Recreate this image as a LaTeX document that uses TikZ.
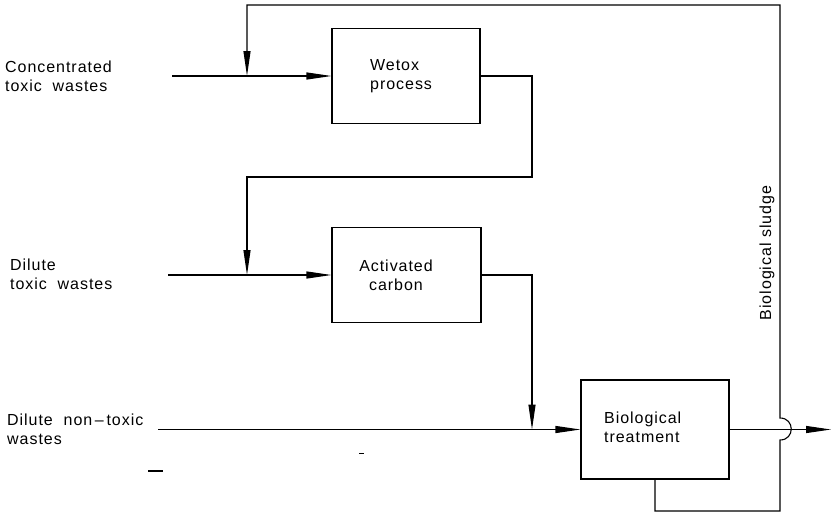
\documentclass[tikz,border=0pt]{standalone}
\usepackage{fontspec}
\setmainfont{Liberation Sans}[LetterSpace=6]
\usetikzlibrary{arrows.meta}
\begin{document}
\begin{tikzpicture}[x=1pt,y=-1pt,
  every node/.style={font=\fontsize{16}{19}\selectfont},
  ln/.style={line width=1.1pt},
  proc/.style={draw,line width=1.1pt,inner sep=0pt},
  lbl/.style={inner sep=0pt,align=left,anchor=west},
  tip/.style={-{Triangle[length=25pt,width=7pt]}}]
\useasboundingbox (0,0) rectangle (832,517);
% boxes
\node[proc,minimum width=148pt,minimum height=95pt] (wetox) at (406,76) {};
\node[proc,minimum width=149pt,minimum height=95pt] (carbon) at (406.5,275) {};
\node[proc,minimum width=148pt,minimum height=99pt] (bio) at (655,429.5) {};
% box texts
\node[lbl] (wetoxt) at (370,76) {Wetox\\process};
\node[inner sep=0pt,align=center] (carbont) at (396,275) {Activated\\carbon};
\node[lbl] (biot) at (604,427) {Biological\\treatment};
% input labels
\node[lbl] (conc) at (5,76) {Concentrated\\toxic\ \ wastes};
\node[lbl] (dil) at (10,274.5) {Dilute\\toxic\ \ wastes};
\node[lbl] (nontox) at (7,429) {Dilute\ \ non\,--\,toxic\\wastes};
\node[inner sep=0pt,rotate=90] (sludge) at (767,253) {Biological sludge};
% coordinates
\coordinate (in1) at (172,76);
\coordinate (in2) at (168,275);
\coordinate (in3) at (158,429.5);
\coordinate (out) at (831,429.5);
\coordinate (j1) at (247,76);
\coordinate (j2) at (247,275);
\coordinate (j3) at (532,429.5);
\coordinate (c1) at (532,177);
\coordinate (loopbr) at (780,511);
\coordinate (hopbot) at (780,440);
\coordinate (hoptop) at (780,418);
\coordinate (looptr) at (780,5);
% connectors
\draw[ln,tip] (in1) -- (wetox.west);
\draw[ln,tip] (in2) -- (carbon.west);
\draw[ln,tip] (in3) -- (bio.west);
\draw[ln,tip] (bio.east) -- (out);
\draw[ln,tip] (wetox.east) -| (c1) -| (j2);
\draw[ln,tip] (carbon.east) -| (j3);
\draw[ln,tip] (bio.south) |- (loopbr) -- (hopbot)
  .. controls +(15,0) and +(15,0) .. (hoptop) -- (looptr) -| (j1);
% stray marks
\coordinate (m1a) at (148,471); \coordinate (m1b) at (163,471);
\coordinate (m2a) at (359,453); \coordinate (m2b) at (364,453);
\draw[line width=1.4pt] (m1a) -- (m1b);
\draw[line width=0.8pt] (m2a) -- (m2b);
\end{tikzpicture}
\end{document}
